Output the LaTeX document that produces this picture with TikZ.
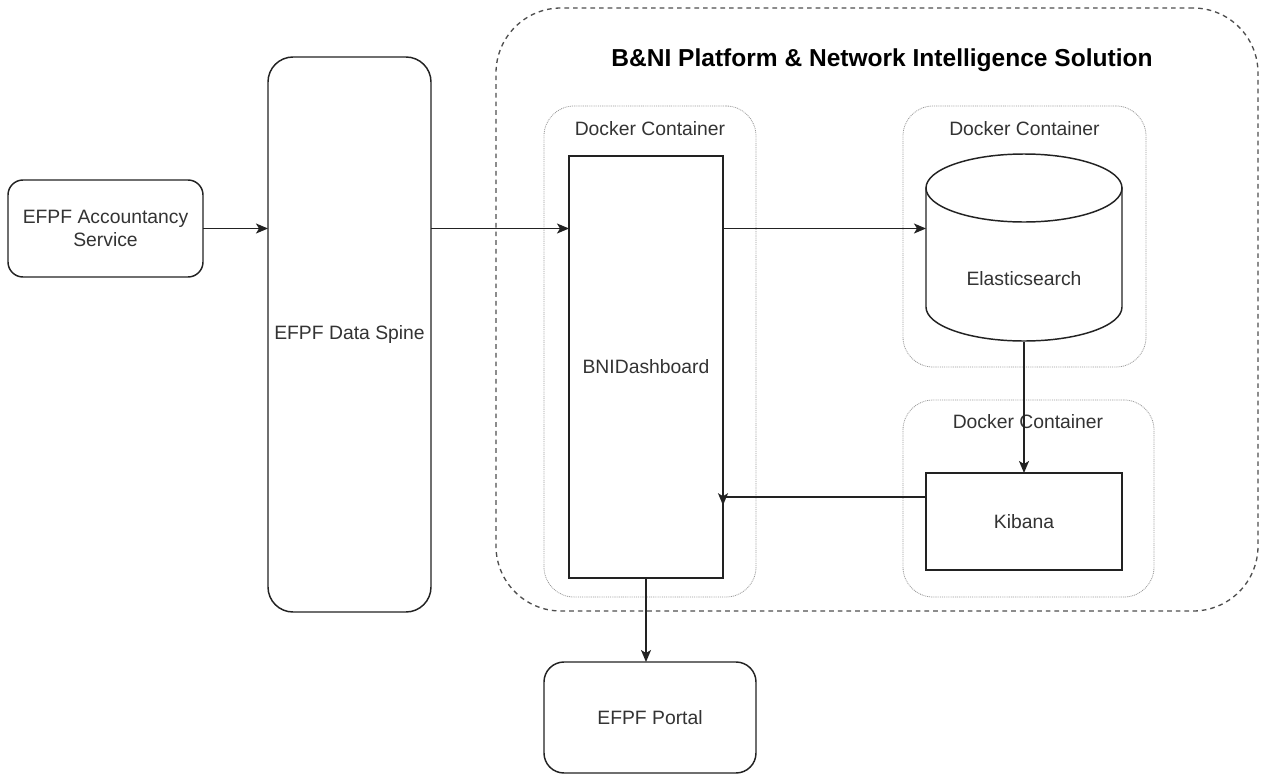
\documentclass[tikz,border=0pt]{standalone}
\usepackage{fontspec}
\setmainfont{Liberation Sans}
\usetikzlibrary{arrows.meta,calc}
\def\px{0.75pt}
\definecolor{ink}{HTML}{222222}
\definecolor{txt}{HTML}{333333}
\tikzset{
  every node/.style={inner sep=0pt,outer sep=0pt},
  solid box/.style={draw=ink,line width=1.1pt,fill=white},
  round box/.style={solid box,rounded corners=#1*\px},
  container/.style={draw=gray!80,line width=0.6pt,dash pattern=on 0.7pt off 0.7pt,rounded corners=30*\px},
  solution/.style={draw=ink!80,line width=1pt,dash pattern=on 3.5pt off 3pt,rounded corners=65*\px},
  lbl/.style={font=\fontsize{14.5}{17.5}\selectfont,text=txt,align=center},
  ttl/.style={font=\fontsize{18.4}{22}\selectfont\bfseries,text=black},
  arrow/.style={draw=ink,line width=1.2pt,-{Stealth[length=12*\px,width=10*\px,inset=3*\px]}},
}
\begin{document}
\begin{tikzpicture}[x=\px,y=-\px]
\useasboundingbox (0,0) rectangle (1261,775);
% outer solution frame
\node[solution,minimum width=762*\px,minimum height=603*\px] (sol) at (877,309.5) {};
\node[ttl] (title) at (882,60) {B\&NI Platform \& Network Intelligence Solution};
% containers
\node[container,minimum width=212*\px,minimum height=491*\px] (dock1) at (650,351.5) {};
\node[lbl] (dock1l) at (650,129) {Docker Container};
\node[container,minimum width=243*\px,minimum height=261*\px] (dock2) at (1024.5,236.5) {};
\node[lbl] (dock2l) at (1024.5,129) {Docker Container};
\node[container,minimum width=251*\px,minimum height=197*\px] (dock3) at (1028.5,498.5) {};
\node[lbl] (dock3l) at (1028,422) {Docker Container};
% boxes
\node[round box=15,minimum width=195*\px,minimum height=97*\px,lbl] (acc) at (105.5,228.5) {EFPF Accountancy\\Service};
\node[round box=25,minimum width=163*\px,minimum height=555*\px,lbl] (spine) at (349.5,334.5) {EFPF Data Spine};
\node[solid box,minimum width=154*\px,minimum height=422*\px,lbl] (dash) at (646,367) {BNIDashboard};
\node[solid box,minimum width=196*\px,minimum height=97*\px,lbl] (kib) at (1024,521.5) {Kibana};
\node[round box=20,minimum width=212*\px,minimum height=111*\px,lbl] (portal) at (650,717.5) {EFPF Portal};
% cylinder
\node[minimum width=196*\px,minimum height=188*\px] (elastic) at (1024,248) {};
\draw[solid box] (926,188) -- (926,307) arc[start angle=180,end angle=360,x radius=73.5pt,y radius=25.5pt] -- (1122,188) -- cycle;
\draw[solid box] (1024,188) ellipse[x radius=73.5pt,y radius=25.5pt];
\node[lbl] (elasticl) at (1024,279) {Elasticsearch};
% connectors
\draw[arrow] (acc.east) -- (acc.east -| spine.west);
\draw[arrow] (spine.east |- acc.east) -- (dash.west |- acc.east);
\draw[arrow] (dash.east |- acc.east) -- (elastic.west |- acc.east);
\draw[arrow] (elastic.south) -- (kib.north);
\coordinate (kibA) at ($(kib.north west)!0.25!(kib.south west)$);
\draw[arrow] (kibA) -- (dash.east |- kibA) -- ++(0,8);
\draw[arrow] (dash.south) -- (dash.south |- portal.north);
\end{tikzpicture}
\end{document}
